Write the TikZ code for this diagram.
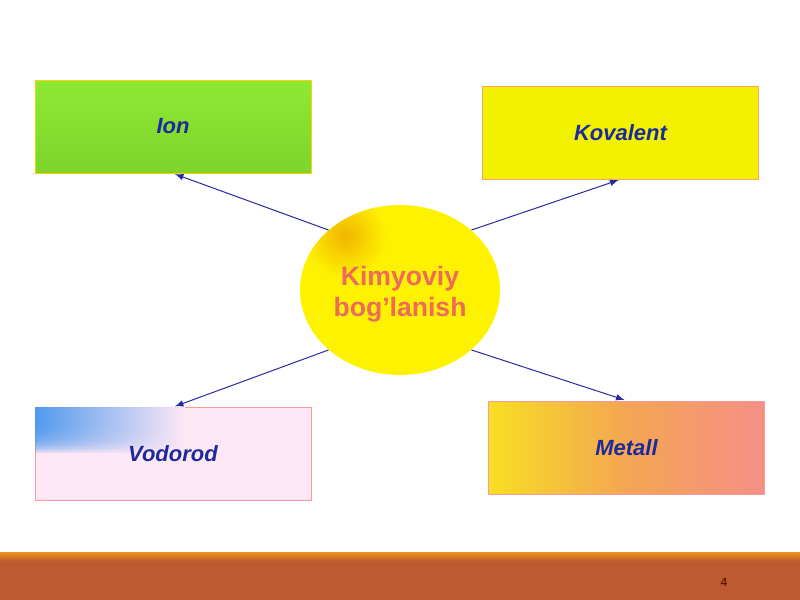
\documentclass[tikz,border=0pt]{standalone}
\usepackage{fontspec}
\setmainfont{Liberation Sans}
\usetikzlibrary{shapes.geometric}

\definecolor{txtblue}{HTML}{1C2A9C}
\definecolor{arrblue}{HTML}{2A2AA0}
\definecolor{iongreen}{HTML}{8EE934}
\definecolor{iongreenD}{HTML}{7ED42B}
\definecolor{kovyellow}{HTML}{F2F200}
\definecolor{vodpink}{HTML}{FFE8F6}
\definecolor{vodblue}{HTML}{4E9AEE}
\definecolor{metyellow}{HTML}{F8DE22}
\definecolor{metorange}{HTML}{F4A653}
\definecolor{metsalmon}{HTML}{F58F86}
\definecolor{bigyellow}{HTML}{FFF200}
\definecolor{bigorange}{HTML}{EBA000}
\definecolor{titlered}{HTML}{EF6A5C}
\definecolor{barbrown}{HTML}{BE5A2F}
\definecolor{barorange}{HTML}{F0921E}

\begin{document}
\begin{tikzpicture}[x=0.5pt,y=-0.5pt,
  kind/.style={rectangle,minimum width=138pt,minimum height=46.5pt,inner sep=0pt,
    line width=0.4pt,font=\fontsize{11}{13}\selectfont\bfseries\itshape,text=txtblue},
  bond/.style={ellipse,minimum width=100pt,minimum height=85pt,inner sep=0pt,
    align=center,font=\fontsize{13.3}{15.5}\selectfont\bfseries,text=titlered},
  blueband/.style={left color=vodblue,middle color=vodblue!80!white,right color=vodpink},
  link/.style={-latex,arrblue,line width=0.5pt,shorten >=1pt}]
\useasboundingbox (0,0) rectangle (800,600);

% bottom band
\fill[barbrown] (0,557) rectangle (800,600);
\shade[top color=barorange,bottom color=barbrown] (0,552) rectangle (800,561);
\node[font=\fontsize{6}{7}\selectfont,text=black!70!red] (page) at (724,582) {4};

% the four kinds
\node[kind,draw=yellow!70!orange,top color=iongreen,bottom color=iongreenD] (ion) at (173,126.5) {Ion};
\node[kind,draw=orange!80!red!60,fill=kovyellow] (kov) at (620.5,132.5) {Kovalent};
\node[kind,draw=red!40,fill=vodpink] (vod) at (173,454) {};
\foreach \i in {0,...,15} {
  \shade[blueband,opacity=0.2] (35.5,407.5) rectangle (185,422+2*\i);
}
\node[kind] (vodtxt) at (vod.center) {Vodorod};
\node[kind,draw=pink!80!red,left color=metyellow,right color=metsalmon,middle color=metorange] (met) at (626.5,447.5) {Metall};

% centre
\node[bond,fill=bigyellow] (bond) at (400,290) {};
\begin{scope}
  \clip (400,290) ellipse (100 and 85);
  \shade[inner color=bigorange!75!bigyellow,outer color=bigyellow] (345,236) circle (42);
\end{scope}
\node[bond] (bondtxt) at (400,294) {Kimyoviy\\bog’lanish};

\foreach \a/\b in {140/ion.south,40/kov.south,220/vod.north,320/met.north} {
  \draw[link] (bond.\a) -- (\b);
}
\end{tikzpicture}
\end{document}
